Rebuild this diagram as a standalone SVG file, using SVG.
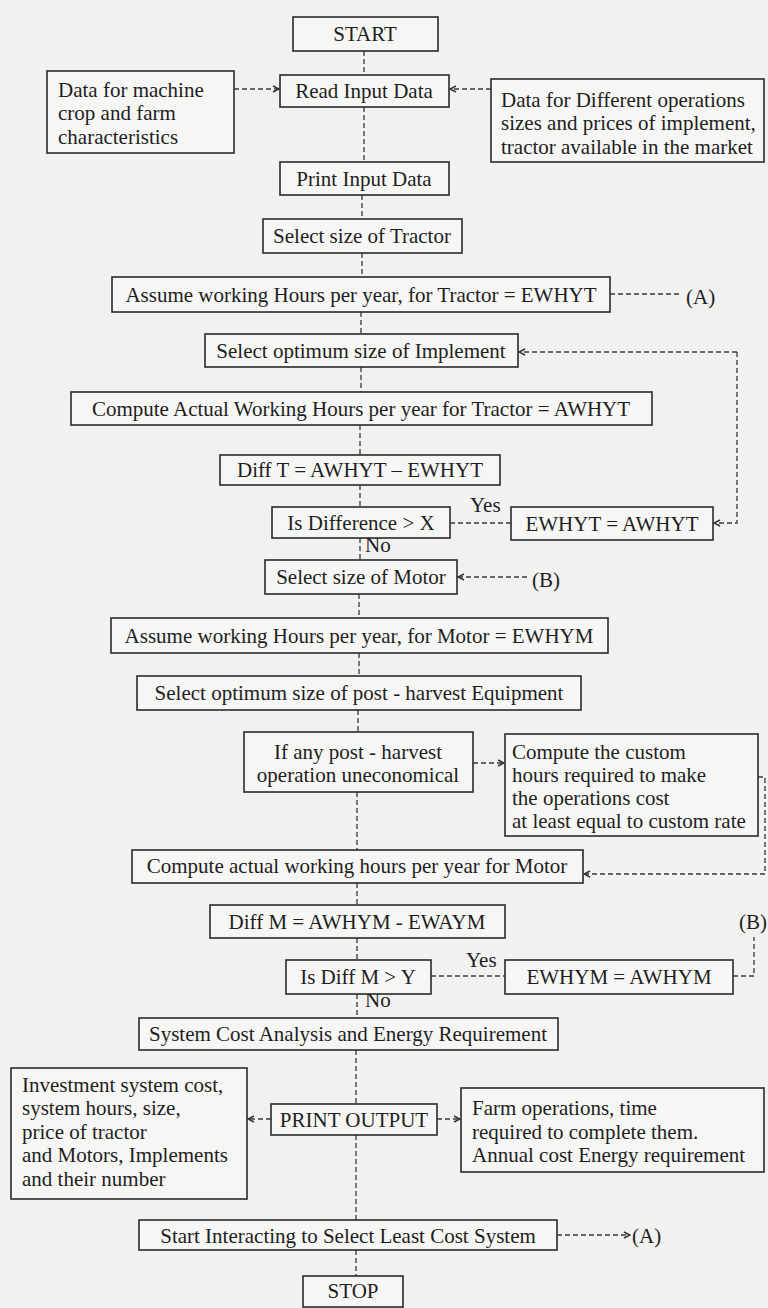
<svg xmlns="http://www.w3.org/2000/svg" width="768" height="1308" viewBox="0 0 768 1308">
<defs>
<marker id="ah" viewBox="0 0 8 8" refX="7" refY="4" markerWidth="8" markerHeight="8" markerUnits="userSpaceOnUse" orient="auto">
<path d="M1,1 L7,4 L1,7" fill="none" stroke="#333" stroke-width="1.4"/>
</marker>
<style>
.b{fill:#f6f6f4;stroke:#2a2a2a;stroke-width:1.6}
.t{font-family:"Liberation Serif","Times New Roman",serif;font-size:21px;fill:#1e1e1e}
.c{text-anchor:middle}
.d{fill:none;stroke:#3a3a3a;stroke-width:1.3;stroke-dasharray:5,3}
</style>
</defs>
<rect width="768" height="1308" fill="#f1f1ef"/>
<g id="connectors">
<path class="d" d="M364,51V75M364,107V162M362,195V219M362,253V277M361,312V334M361,367V392M360,425V455M360,485V507M360,538V560M359,594V618M359,653V676M358,710V732M357,792V850M357,883V905M357,938V960M357,994V1018M356,1050V1104M356,1135V1220M356,1250V1276"/>
<path class="d" d="M234,89H279" marker-end="url(#ah)"/>
<path class="d" d="M491,89H450" marker-end="url(#ah)"/>
<path class="d" d="M610,294H679"/>
<path class="d" d="M737,352H519" marker-end="url(#ah)"/>
<path class="d" d="M737,352V523H714" marker-end="url(#ah)"/>
<path class="d" d="M450,523H511"/>
<path class="d" d="M527,577H458" marker-end="url(#ah)"/>
<path class="d" d="M473,763H504" marker-end="url(#ah)"/>
<path class="d" d="M758,777H765V874H584" marker-end="url(#ah)"/>
<path class="d" d="M431,976H505"/>
<path class="d" d="M733,976H754V937"/>
<path class="d" d="M271,1119H248" marker-end="url(#ah)"/>
<path class="d" d="M437,1119H460" marker-end="url(#ah)"/>
<path class="d" d="M557,1235H630" marker-end="url(#ah)"/>
<text class="t" x="365" y="552">No</text>
<text class="t" x="470" y="512">Yes</text>
<text class="t" x="686" y="304">(A)</text>
<text class="t" x="532" y="587">(B)</text>
<text class="t" x="739" y="929">(B)</text>
<text class="t" x="466" y="967">Yes</text>
<text class="t" x="365" y="1007">No</text>
<text class="t" x="632" y="1243">(A)</text>
</g>
<g id="start"><rect class="b" x="293" y="17" width="145" height="34"/><text class="t c" x="365" y="41">START</text></g>
<g id="read"><rect class="b" x="280" y="75" width="169" height="32"/><text class="t c" x="364" y="98">Read Input Data</text></g>
<g id="machine"><rect class="b" x="47" y="71" width="187" height="82"/><text class="t" x="58" y="97">Data for machine</text><text class="t" x="58" y="120">crop and farm</text><text class="t" x="58" y="144">characteristics</text></g>
<g id="different"><rect class="b" x="491" y="79" width="273" height="83"/><text class="t" x="501" y="107">Data for Different operations</text><text class="t" x="501" y="130">sizes and prices of implement,</text><text class="t" x="501" y="154">tractor available in the market</text></g>
<g id="print"><rect class="b" x="280" y="162" width="169" height="33"/><text class="t c" x="364" y="186">Print Input Data</text></g>
<g id="tractor"><rect class="b" x="263" y="219" width="199" height="34"/><text class="t c" x="362" y="243">Select size of Tractor</text></g>
<g id="ewhyt"><rect class="b" x="112" y="277" width="498" height="35"/><text class="t c" x="361" y="302">Assume working Hours per year, for Tractor = EWHYT</text></g>
<g id="implement"><rect class="b" x="205" y="334" width="313" height="33"/><text class="t c" x="361" y="358">Select optimum size of Implement</text></g>
<g id="awhyt"><rect class="b" x="71" y="392" width="581" height="33"/><text class="t c" x="361" y="416">Compute Actual Working Hours per year for Tractor = AWHYT</text></g>
<g id="difft"><rect class="b" x="220" y="455" width="280" height="30"/><text class="t c" x="360" y="477">Diff T = AWHYT – EWHYT</text></g>
<g id="isdiff"><rect class="b" x="272" y="507" width="178" height="31"/><text class="t c" x="361" y="530">Is Difference &gt; X</text></g>
<g id="set-t"><rect class="b" x="511" y="507" width="202" height="33"/><text class="t c" x="612" y="531">EWHYT = AWHYT</text></g>
<g id="motor"><rect class="b" x="265" y="560" width="192" height="34"/><text class="t c" x="361" y="584">Select size of Motor</text></g>
<g id="ewhym"><rect class="b" x="111" y="618" width="497" height="35"/><text class="t c" x="359" y="643">Assume working Hours per year, for Motor = EWHYM</text></g>
<g id="post"><rect class="b" x="137" y="676" width="444" height="34"/><text class="t c" x="359" y="700">Select optimum size of post - harvest Equipment</text></g>
<g id="ifany"><rect class="b" x="244" y="732" width="229" height="60"/><text class="t c" x="358" y="759">If any post - harvest</text><text class="t c" x="358" y="782">operation uneconomical</text></g>
<g id="custom"><rect class="b" x="505" y="734" width="253" height="102"/><text class="t" x="512" y="759">Compute the custom</text><text class="t" x="512" y="782">hours required to make</text><text class="t" x="512" y="805">the operations cost</text><text class="t" x="512" y="828">at least equal to custom rate</text></g>
<g id="awhym"><rect class="b" x="132" y="850" width="451" height="33"/><text class="t c" x="357" y="873">Compute actual working hours per year for Motor</text></g>
<g id="diffm"><rect class="b" x="210" y="905" width="295" height="33"/><text class="t c" x="357" y="929">Diff M = AWHYM - EWAYM</text></g>
<g id="isdiffm"><rect class="b" x="286" y="960" width="145" height="34"/><text class="t c" x="358" y="984">Is Diff M &gt; Y</text></g>
<g id="set-m"><rect class="b" x="505" y="960" width="228" height="34"/><text class="t c" x="619" y="984">EWHYM = AWHYM</text></g>
<g id="system"><rect class="b" x="139" y="1018" width="419" height="32"/><text class="t c" x="348" y="1041">System Cost Analysis and Energy Requirement</text></g>
<g id="investment"><rect class="b" x="11" y="1068" width="236" height="131"/><text class="t" x="22" y="1092">Investment system cost,</text><text class="t" x="22" y="1115">system hours, size,</text><text class="t" x="22" y="1139">price of tractor</text><text class="t" x="22" y="1162">and Motors, Implements</text><text class="t" x="22" y="1186">and their number</text></g>
<g id="output"><rect class="b" x="271" y="1104" width="166" height="31"/><text class="t c" x="354" y="1127">PRINT OUTPUT</text></g>
<g id="farm"><rect class="b" x="461" y="1088" width="303" height="84"/><text class="t" x="472" y="1115">Farm operations, time</text><text class="t" x="472" y="1139">required to complete them.</text><text class="t" x="472" y="1162">Annual cost Energy requirement</text></g>
<g id="interact"><rect class="b" x="139" y="1220" width="418" height="30"/><text class="t c" x="348" y="1243">Start Interacting to Select Least Cost System</text></g>
<g id="stop"><rect class="b" x="303" y="1276" width="100" height="31"/><text class="t c" x="353" y="1298">STOP</text></g>
</svg>
